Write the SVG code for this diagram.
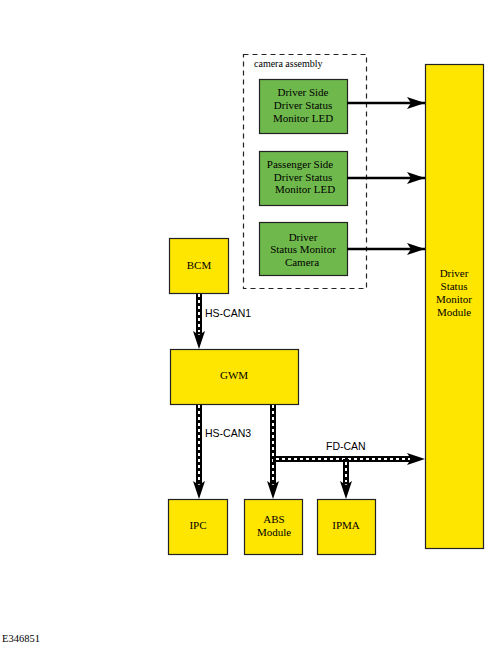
<svg xmlns="http://www.w3.org/2000/svg" width="495" height="651" viewBox="0 0 495 651">
<style>
.y{fill:#ffe600;stroke:#222;stroke-width:1.2}
.g{fill:#6fb84c;stroke:#222;stroke-width:1.2}
.bus{stroke:#000;stroke-width:6;fill:none}
.dash{stroke:#fff;stroke-width:2;stroke-dasharray:3 3;fill:none}
.ln{stroke:#000;stroke-width:2.5;fill:none}
</style>
<defs>
<marker id="ah" markerWidth="18" markerHeight="12" refX="18" refY="6" orient="auto" markerUnits="userSpaceOnUse">
<path d="M0,0 L18,6 L0,12 L4,6 Z" fill="#000"/>
</marker>
</defs>
<rect width="495" height="651" fill="#fff"/>
<g font-family="Liberation Serif, Times New Roman, serif" font-size="11" text-anchor="middle" fill="#000">
<g id="camera-assembly">
<rect x="243.5" y="54.5" width="123" height="234" fill="none" stroke="#222" stroke-width="1.2" stroke-dasharray="5 4"/>
<text x="254" y="67" font-size="10" text-anchor="start">camera assembly</text>
</g>
<g id="ds-led">
<rect class="g" x="259.5" y="79.5" width="88" height="54"/>
<text x="303" y="96">Driver Side</text>
<text x="303" y="109">Driver Status</text>
<text x="303" y="122">Monitor LED</text>
</g>
<g id="ps-led">
<rect class="g" x="259.5" y="151.5" width="88" height="54"/>
<text x="300" y="168">Passenger Side</text>
<text x="303" y="181">Driver Status</text>
<text x="305" y="193">Monitor LED</text>
</g>
<g id="dsm-camera">
<rect class="g" x="259.5" y="222.5" width="88" height="53"/>
<text x="303" y="241">Driver</text>
<text x="303" y="253">Status Monitor</text>
<text x="302" y="266">Camera</text>
</g>
<g id="dsm">
<rect class="y" x="425.5" y="64.5" width="58" height="484"/>
<text x="454" y="277">Driver</text>
<text x="454" y="290">Status</text>
<text x="454" y="303">Monitor</text>
<text x="454" y="316">Module</text>
</g>
<g id="bcm">
<rect class="y" x="169.5" y="238.5" width="59" height="55"/>
<text x="199" y="269">BCM</text>
</g>
<g id="gwm">
<rect class="y" x="170.5" y="349.5" width="128" height="55"/>
<text x="234" y="379">GWM</text>
</g>
<g id="ipc">
<rect class="y" x="168.5" y="499.5" width="59" height="55"/>
<text x="198" y="529">IPC</text>
</g>
<g id="abs">
<rect class="y" x="244.5" y="499.5" width="58" height="55"/>
<text x="274" y="523">ABS</text>
<text x="274" y="536">Module</text>
</g>
<g id="ipma">
<rect class="y" x="317.5" y="499.5" width="58" height="55"/>
<text x="346" y="529">IPMA</text>
</g>
</g>
<g id="connectors">
<line class="ln" x1="347" y1="103" x2="425" y2="103" marker-end="url(#ah)"/>
<line class="ln" x1="347" y1="178" x2="425" y2="178" marker-end="url(#ah)"/>
<line class="ln" x1="347" y1="249" x2="425" y2="249" marker-end="url(#ah)"/>
<path class="bus" d="M199,294 V334"/>
<path class="dash" d="M199,294 V332"/>
<path d="M193,331 L199,349 L205,331 L199,335 Z" fill="#000"/>
<path class="bus" d="M199,405 V484"/>
<path class="dash" d="M199,405 V482"/>
<path d="M193,481 L199,499 L205,481 L199,485 Z" fill="#000"/>
<path class="bus" d="M273,405 V484"/>
<path class="dash" d="M273,405 V482"/>
<path d="M267,481 L273,499 L279,481 L273,485 Z" fill="#000"/>
<path class="bus" d="M273,459 H412"/>
<path class="dash" d="M276,459 H410"/>
<path d="M407,453 L425,459 L407,465 L411,459 Z" fill="#000"/>
<path class="bus" d="M346,459 V484"/>
<path class="dash" d="M346,462 V482"/>
<path d="M340,481 L346,499 L352,481 L346,485 Z" fill="#000"/>
<g font-family="Liberation Sans, Arial, sans-serif" font-size="10.5" fill="#000">
<text x="205" y="317">HS-CAN1</text>
<text x="205" y="437">HS-CAN3</text>
<text x="326" y="450">FD-CAN</text>
</g>
</g>
<text x="2" y="642" font-family="Liberation Serif, Times New Roman, serif" font-size="10.5">E346851</text>
</svg>
